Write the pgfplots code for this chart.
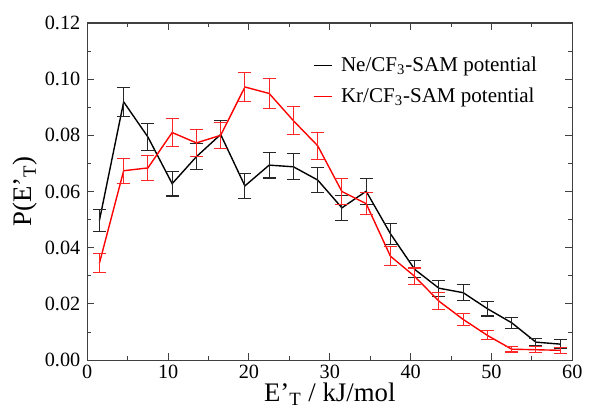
\documentclass[border=0pt]{standalone}
\usepackage{pgfplots}
\pgfplotsset{compat=1.18}
\usepackage{fontspec}
\setmainfont{Liberation Serif}
\begin{document}
\begin{tikzpicture}
\begin{axis}[
  scale only axis, width=244.5pt, height=170pt,
  xmin=0, xmax=60, ymin=0, ymax=0.12,
  xtick={0,10,...,60}, ytick={0,0.02,...,0.121},
  minor x tick num=1, minor y tick num=1,
  major tick length=3.5pt, minor tick length=2pt,
  tick align=inside,
  axis line style={black!75, line width=0.6pt},
  every tick/.style={black!75, line width=0.5pt},
  /pgf/number format/assume math mode=true,
  yticklabel style={/pgf/number format/.cd, fixed, fixed zerofill, precision=2},
  scaled y ticks=false,
  tick label style={font=\fontsize{10.2}{12}\selectfont},
  xticklabel style={yshift=1pt},
  xlabel={E’\textsubscript{T} / kJ/mol},
  ylabel={P(E’\textsubscript{T})},
  label style={font=\fontsize{13.5}{15}\selectfont},
  xlabel style={yshift=5pt},
  ylabel style={yshift=-3pt},
  legend style={draw=none, fill=none, at={(0.452,0.925)}, anchor=north west,
    font=\fontsize{10.6}{13}\selectfont, row sep=3pt},
  legend cell align=left,
  legend image code/.code={\draw[#1] (0pt,0pt) -- (9.5pt,0pt); \path (11.5pt,0pt);},
  clip=false,
]
\addplot[black, line width=0.7pt, error bars/.cd, y dir=both, y explicit,
  error bar style={line width=0.55pt, black!85},
  error mark options={rotate=90, mark size=3.3pt, line width=0.55pt, black!85}]
  table[x=x, y=y, y error=e] {
x y e
1.5 0.0497 0.0040
4.5 0.0919 0.0052
7.5 0.0794 0.0048
10.5 0.0628 0.0044
13.5 0.0724 0.0047
16.5 0.0803 0.0050
19.5 0.0620 0.0045
22.5 0.0694 0.0046
25.5 0.0688 0.0046
28.5 0.0641 0.0045
31.5 0.0542 0.0045
34.5 0.0601 0.0046
37.5 0.0450 0.0037
40.5 0.0323 0.0030
43.5 0.0256 0.0029
46.5 0.0240 0.0028
49.5 0.0183 0.0026
52.5 0.0133 0.0020
55.5 0.0064 0.0013
58.5 0.0057 0.0015
};
\addlegendentry{Ne/CF\textsubscript{3}-SAM potential}
\addplot[red, line width=0.7pt, error bars/.cd, y dir=both, y explicit,
  error bar style={line width=0.55pt, red!85},
  error mark options={rotate=90, mark size=3.3pt, line width=0.55pt, red!85}]
  table[x=x, y=y, y error=e] {
x y e
1.5 0.0345 0.0033
4.5 0.0674 0.0045
7.5 0.0684 0.0045
10.5 0.0810 0.0049
13.5 0.0773 0.0047
16.5 0.0800 0.0047
19.5 0.0972 0.0053
22.5 0.0949 0.0053
25.5 0.0852 0.0050
28.5 0.0763 0.0048
31.5 0.0600 0.0047
34.5 0.0557 0.0040
37.5 0.0370 0.0033
40.5 0.0298 0.0030
43.5 0.0210 0.0030
46.5 0.0145 0.0022
49.5 0.0088 0.0016
52.5 0.0039 0.0010
55.5 0.0037 0.0010
58.5 0.0035 0.0010
};
\addlegendentry{Kr/CF\textsubscript{3}-SAM potential}
\path (rel axis cs:-0.18,-0.15) rectangle (rel axis cs:1.0245,1.068);
\end{axis}
\end{tikzpicture}
\end{document}
